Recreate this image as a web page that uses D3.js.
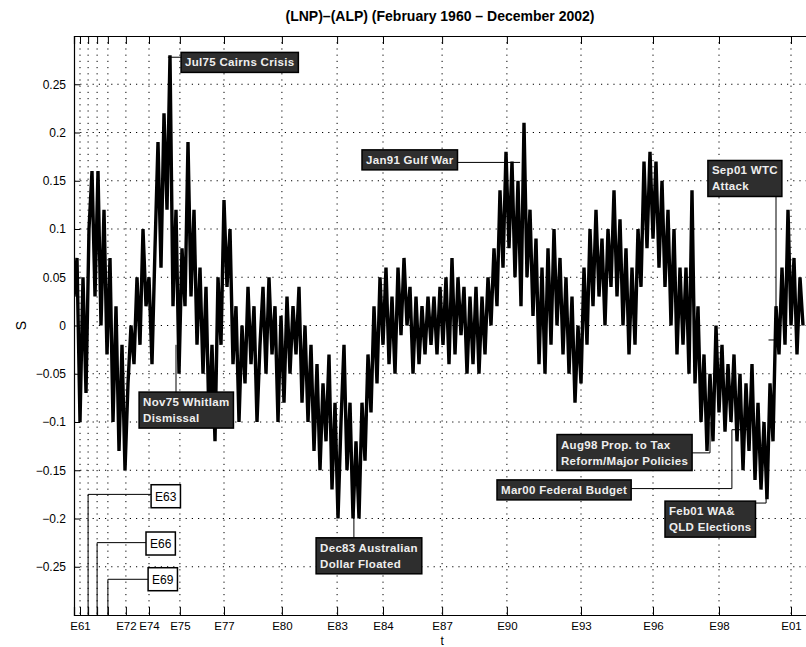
<!DOCTYPE html>
<html>
<head>
<meta charset="utf-8">
<script src="https://cdn.jsdelivr.net/npm/d3@7.9.0/dist/d3.min.js"></script>
<style>
  body { margin: 0; background: #fff; }
  svg { display: block; font-family: "Liberation Sans", Arial, sans-serif; }
</style>
</head>
<body>
<svg id="chart" width="806" height="647"></svg>
<script>
// election dates on the t axis (observation index)
const electionLabels = ['E61', 'E63', 'E66', 'E69', 'E72', 'E74', 'E75', 'E77', 'E80', 'E83', 'E84', 'E87', 'E90', 'E93', 'E96', 'E98', 'E01'];
const electionT = [2, 4.7, 7.7, 11.3, 17.3, 25, 35.3, 50, 69.3, 87.7, 103, 122.7, 144.3, 169, 193, 215, 239];
const unlabelled = ['E63', 'E66', 'E69'];

const yTicks = [-0.25, -0.2, -0.15, -0.1, -0.05, 0, 0.05, 0.1, 0.15, 0.2, 0.25];

// S = LNP - ALP
const S = [
  0.03, 0.07, -0.10, 0.05, -0.07, 0.10, 0.16, 0.03, 0.16, 0.00,
  0.12, -0.03, 0.07, -0.10, 0.02, -0.13, -0.02, -0.15, -0.06, 0.00,
  -0.04, 0.05, -0.02, 0.10, 0.02, 0.05, -0.04, 0.08, 0.19, 0.06,
  0.22, 0.12, 0.28, 0.02, 0.12, -0.05, 0.08, 0.02, 0.19, 0.03,
  0.12, -0.02, 0.06, -0.05, 0.04, -0.10, -0.02, -0.12, 0.05, -0.02,
  0.13, 0.04, 0.10, -0.04, 0.02, -0.10, 0.00, -0.06, 0.04, -0.04,
  0.02, -0.10, -0.02, 0.04, -0.05, 0.05, -0.03, 0.02, -0.10, 0.01,
  -0.08, 0.03, -0.05, 0.02, -0.03, 0.04, -0.08, 0.00, -0.10, -0.02,
  -0.13, -0.04, -0.15, -0.06, -0.12, -0.03, -0.17, -0.08, -0.20, -0.10,
  -0.02, -0.15, -0.08, -0.20, -0.12, -0.20, -0.08, -0.14, -0.03, -0.09,
  0.02, -0.06, 0.05, -0.02, 0.06, -0.04, 0.03, -0.05, 0.06, -0.01,
  0.07, 0.00, 0.04, -0.05, 0.03, -0.04, 0.02, -0.03, 0.03, -0.02,
  0.03, -0.03, 0.04, -0.02, 0.05, -0.04, 0.07, -0.03, 0.05, -0.01,
  0.04, -0.05, 0.03, -0.04, 0.04, -0.05, 0.03, -0.03, 0.05, 0.00,
  0.08, 0.02, 0.14, 0.06, 0.18, 0.08, 0.17, 0.05, 0.15, 0.02,
  0.21, 0.05, 0.12, 0.01, 0.09, -0.04, 0.06, -0.05, 0.08, -0.02,
  0.10, 0.00, 0.07, -0.03, 0.05, -0.05, 0.03, -0.08, 0.00, -0.06,
  0.06, -0.02, 0.10, 0.02, 0.12, 0.03, 0.09, 0.00, 0.10, 0.04,
  0.14, 0.03, 0.11, 0.00, 0.08, -0.03, 0.06, -0.02, 0.10, 0.04,
  0.17, 0.08, 0.18, 0.09, 0.17, 0.06, 0.15, 0.04, 0.12, 0.00,
  0.10, -0.03, 0.06, -0.02, 0.06, -0.05, 0.14, -0.06, 0.02, -0.10,
  -0.03, -0.13, -0.05, -0.12, 0.00, -0.09, -0.02, -0.11, -0.04, -0.10,
  -0.03, -0.12, -0.05, -0.15, -0.06, -0.13, -0.04, -0.16, -0.08, -0.17,
  -0.10, -0.18, -0.06, -0.12, 0.02, -0.03, 0.06, -0.02, 0.12, 0.00,
  0.07, -0.03, 0.05, 0.00
];

// event call-outs (box anchor and leader in data units)
const events = [
  { lines: ['Jul75 Cairns Crisis'], t: 35.7, s: 0.283, leader: [[31.3, 0.278], [40, 0.278]] },
  { lines: ['Nov75 Whitlam', 'Dismissal'], t: 21.7, s: -0.069, leader: [[34, -0.075], [34, -0.02]] },
  { lines: ['Jan91 Gulf War'], t: 96, s: 0.182, leader: [[110, 0.169], [148.7, 0.169]] },
  { lines: ['Sep01 WTC', 'Attack'], t: 211.3, s: 0.171, leader: [[234, 0.14], [234, -0.015], [231.5, -0.015]] },
  { lines: ['Aug98 Prop. to Tax', 'Reform/Major Policies'], t: 161, s: -0.113, leader: [[200, -0.132], [212, -0.132], [212, -0.1]] },
  { lines: ['Mar00 Federal Budget'], t: 141, s: -0.16, leader: [[180, -0.169], [219.3, -0.169], [219.3, -0.108], [224.7, -0.108]] },
  { lines: ['Feb01 WA&', 'QLD Elections'], t: 197, s: -0.182, leader: [[225, -0.184], [230.7, -0.184], [230.7, -0.166]] },
  { lines: ['Dec83 Australian', 'Dollar Floated'], t: 80.7, s: -0.22, leader: [[93.3, -0.225], [93.3, -0.195]] }
];

const electionBoxes = [
  { label: 'E63', t: 25.7, s: -0.165, leader: [[4.7, -0.3], [4.7, -0.175], [28, -0.175]] },
  { label: 'E66', t: 24, s: -0.214, leader: [[7.7, -0.3], [7.7, -0.225], [26, -0.225]] },
  { label: 'E69', t: 24.7, s: -0.251, leader: [[11.3, -0.3], [11.3, -0.263], [26, -0.263]] }
];

const svg = d3.select('#chart');
const margin = { left: 74, right: 809, top: 36, bottom: 615 };

const x = d3.scaleLinear().domain([0, 245]).range([margin.left, margin.right]);
const y = d3.scaleLinear().domain([-0.3, 0.3]).range([margin.bottom, margin.top]);

svg.append('clipPath').attr('id', 'plotclip')
  .append('rect')
  .attr('x', margin.left).attr('y', margin.top)
  .attr('width', margin.right - margin.left).attr('height', margin.bottom - margin.top);

// dotted grid
let grid = svg.append('g').attr('stroke', '#000').attr('stroke-width', 1).attr('stroke-dasharray', '1.2,5');
electionT.forEach((t) => {
  grid.append('line').attr('x1', x(t)).attr('x2', x(t)).attr('y1', margin.top).attr('y2', margin.bottom);
});
yTicks.forEach((v) => {
  grid.append('line').attr('x1', margin.left).attr('x2', margin.right).attr('y1', y(v)).attr('y2', y(v));
});

// the series, drawn heavy so the weekly jitter reads as a dense band
let line = d3.line().x((d, i) => x(i)).y((d) => y(d));
svg.append('path')
  .datum(S)
  .attr('clip-path', 'url(#plotclip)')
  .attr('fill', 'none')
  .attr('stroke', '#000')
  .attr('stroke-width', 3.4)
  .attr('stroke-linejoin', 'bevel')
  .attr('d', line);

let leaderLine = d3.line().x((d) => x(d[0])).y((d) => y(d[1]));

// election call-outs
electionBoxes.forEach((b) => {
  svg.append('path').attr('d', leaderLine(b.leader)).attr('fill', 'none').attr('stroke', '#000').attr('stroke-width', 1);
  let g = svg.append('g').attr('transform', `translate(${x(b.t)},${y(b.s)})`);
  let rect = g.append('rect').attr('fill', '#fff').attr('stroke', '#000').attr('stroke-width', 1.5);
  let txt = g.append('text').attr('x', 4).attr('y', 16).attr('font-size', 12).text(b.label);
  let w = txt.node().getComputedTextLength();
  rect.attr('width', w + 8).attr('height', 23);
});

// event call-outs
events.forEach((e) => {
  svg.append('path').attr('d', leaderLine(e.leader)).attr('fill', 'none').attr('stroke', '#000').attr('stroke-width', 1);
  let g = svg.append('g').attr('transform', `translate(${x(e.t)},${y(e.s)})`);
  let rect = g.append('rect').attr('fill', '#2e2e2e').attr('stroke', '#000').attr('stroke-width', 1.5);
  let w = 0;
  e.lines.forEach((l, i) => {
    let txt = g.append('text')
      .attr('x', 4).attr('y', 14 + i * 16)
      .attr('font-size', 11.5).attr('font-weight', 'bold')
      .attr('letter-spacing', 0.3)
      .attr('fill', '#eee')
      .text(l);
    w = Math.max(w, txt.node().getComputedTextLength());
  });
  rect.attr('width', w + 8).attr('height', 4 + e.lines.length * 16);
});

// axes
svg.append('g')
  .attr('transform', `translate(0,${margin.bottom})`)
  .call(d3.axisBottom(x).tickValues(electionT).tickSize(-8).tickPadding(7)
    .tickFormat((d, i) => (unlabelled.includes(electionLabels[i]) ? '' : electionLabels[i])))
  .call((g) => g.select('.domain').attr('stroke-width', 1.2))
  .call((g) => g.selectAll('text').attr('font-size', 11.5).attr('fill', '#000'));

svg.append('g')
  .attr('transform', `translate(0,${margin.top})`)
  .call(d3.axisTop(x).tickValues(electionT).tickSize(-8).tickFormat(''))
  .call((g) => g.select('.domain').attr('stroke-width', 1.2));

svg.append('g')
  .attr('transform', `translate(${margin.left},0)`)
  .call(d3.axisLeft(y).tickValues(yTicks).tickSize(-6).tickPadding(8)
    .tickFormat((d) => (d < 0 ? '\u2212' : '') + String(Math.abs(d))))
  .call((g) => g.select('.domain').attr('stroke-width', 1.2))
  .call((g) => g.selectAll('text').attr('font-size', 12).attr('fill', '#000'));

// title and axis names
svg.append('text')
  .attr('x', 440).attr('y', 21)
  .attr('text-anchor', 'middle')
  .attr('font-size', 14).attr('font-weight', 'bold')
  .text('(LNP)\u2013(ALP) (February 1960 \u2013 December 2002)');

svg.append('text')
  .attr('transform', `translate(26,${y(0)}) rotate(-90)`)
  .attr('text-anchor', 'middle')
  .attr('font-size', 14)
  .text('S');

svg.append('text')
  .attr('x', x(122.7)).attr('y', 645)
  .attr('text-anchor', 'middle')
  .attr('font-size', 12)
  .text('t');
</script>
</body>
</html>
